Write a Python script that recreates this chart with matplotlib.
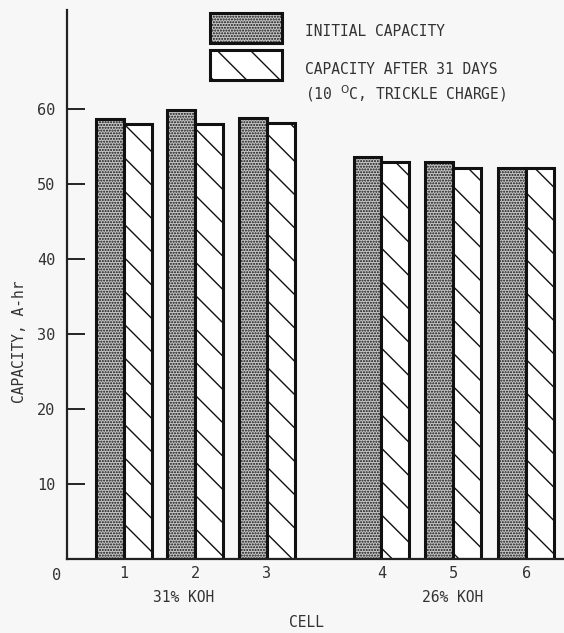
import matplotlib.pyplot as plt
from matplotlib.patches import Rectangle

plt.rcParams['font.family'] = ['DejaVu Sans Mono']
plt.rcParams['hatch.linewidth'] = 1.0

cells = ['1', '2', '3', '4', '5', '6']
cell_x = [1, 2, 3, 4.6, 5.6, 6.62]
initial = [58.7, 59.9, 58.8, 53.6, 52.9, 52.2]
after_31 = [58.0, 58.0, 58.1, 52.9, 52.2, 52.1]
groups = ['31% KOH', '26% KOH']
group_x = [1.83, 5.6]
y_ticks = [10, 20, 30, 40, 50, 60]

bg = '#f7f7f7'
ink = '#333333'
stipple = dict(facecolor='#c6c6c6', edgecolor='#111111', linewidth=2.2, hatch='......')
stripes = dict(facecolor='white', edgecolor='#111111', linewidth=2.2, hatch='\\')

fig = plt.figure(figsize=(5.64, 6.33), dpi=100)
ax = fig.add_axes([0.118, 0.117, 0.882, 0.867])
ax.set_facecolor(bg)

w = 0.39
ax.bar([x - w / 2 for x in cell_x], initial, width=w, **stipple)
ax.bar([x + w / 2 for x in cell_x], after_31, width=w, **stripes)

ax.set_xlim(0.2, 7.15)
ax.set_ylim(0, 73.2)
ax.set_yticks(y_ticks)
ax.set_yticklabels([str(t) for t in y_ticks], fontsize=11, color=ink)
ax.tick_params(axis='y', direction='in', length=13, width=1.2, pad=8)
ax.set_xticks(cell_x)
ax.set_xticklabels(cells, fontsize=11, color=ink)
ax.tick_params(axis='x', length=0, pad=5)
for s in ['top', 'right']:
    ax.spines[s].set_visible(False)
for s in ['left', 'bottom']:
    ax.spines[s].set_linewidth(1.6)
    ax.spines[s].set_color('#222222')

ax.text(-0.01, -0.03, '0', transform=ax.transAxes, ha='right', va='center',
        fontsize=11, color=ink)
for g, gx in zip(groups, group_x):
    ax.text(gx, -5.2, g, ha='center', va='center', fontsize=10.5, color=ink)
ax.text(3.55, -8.5, 'CELL', ha='center', va='center', fontsize=10.5, color=ink)
fig.text(0.035, 0.46, 'CAPACITY, A-hr', rotation=90, ha='center', va='center',
         fontsize=10.5, color=ink)

# legend drawn by hand like the original
fig.patches.append(Rectangle((210 / 564, 1 - 43 / 633), 72 / 564, 30 / 633,
                             transform=fig.transFigure, **stipple))
fig.patches.append(Rectangle((210 / 564, 1 - 80 / 633), 72 / 564, 30 / 633,
                             transform=fig.transFigure, **stripes))
fig.text(305 / 564, 1 - 32 / 633, 'INITIAL CAPACITY', ha='left', va='center',
         fontsize=10.5, color=ink)
fig.text(305 / 564, 1 - 70 / 633, 'CAPACITY AFTER 31 DAYS', ha='left', va='center',
         fontsize=10.5, color=ink)
fig.text(305 / 564, 1 - 94 / 633, r'(10 $^{\rm O}$C, TRICKLE CHARGE)', ha='left',
         va='center', fontsize=10.5, color=ink)

fig.savefig('out.png', dpi=100, facecolor=bg)
